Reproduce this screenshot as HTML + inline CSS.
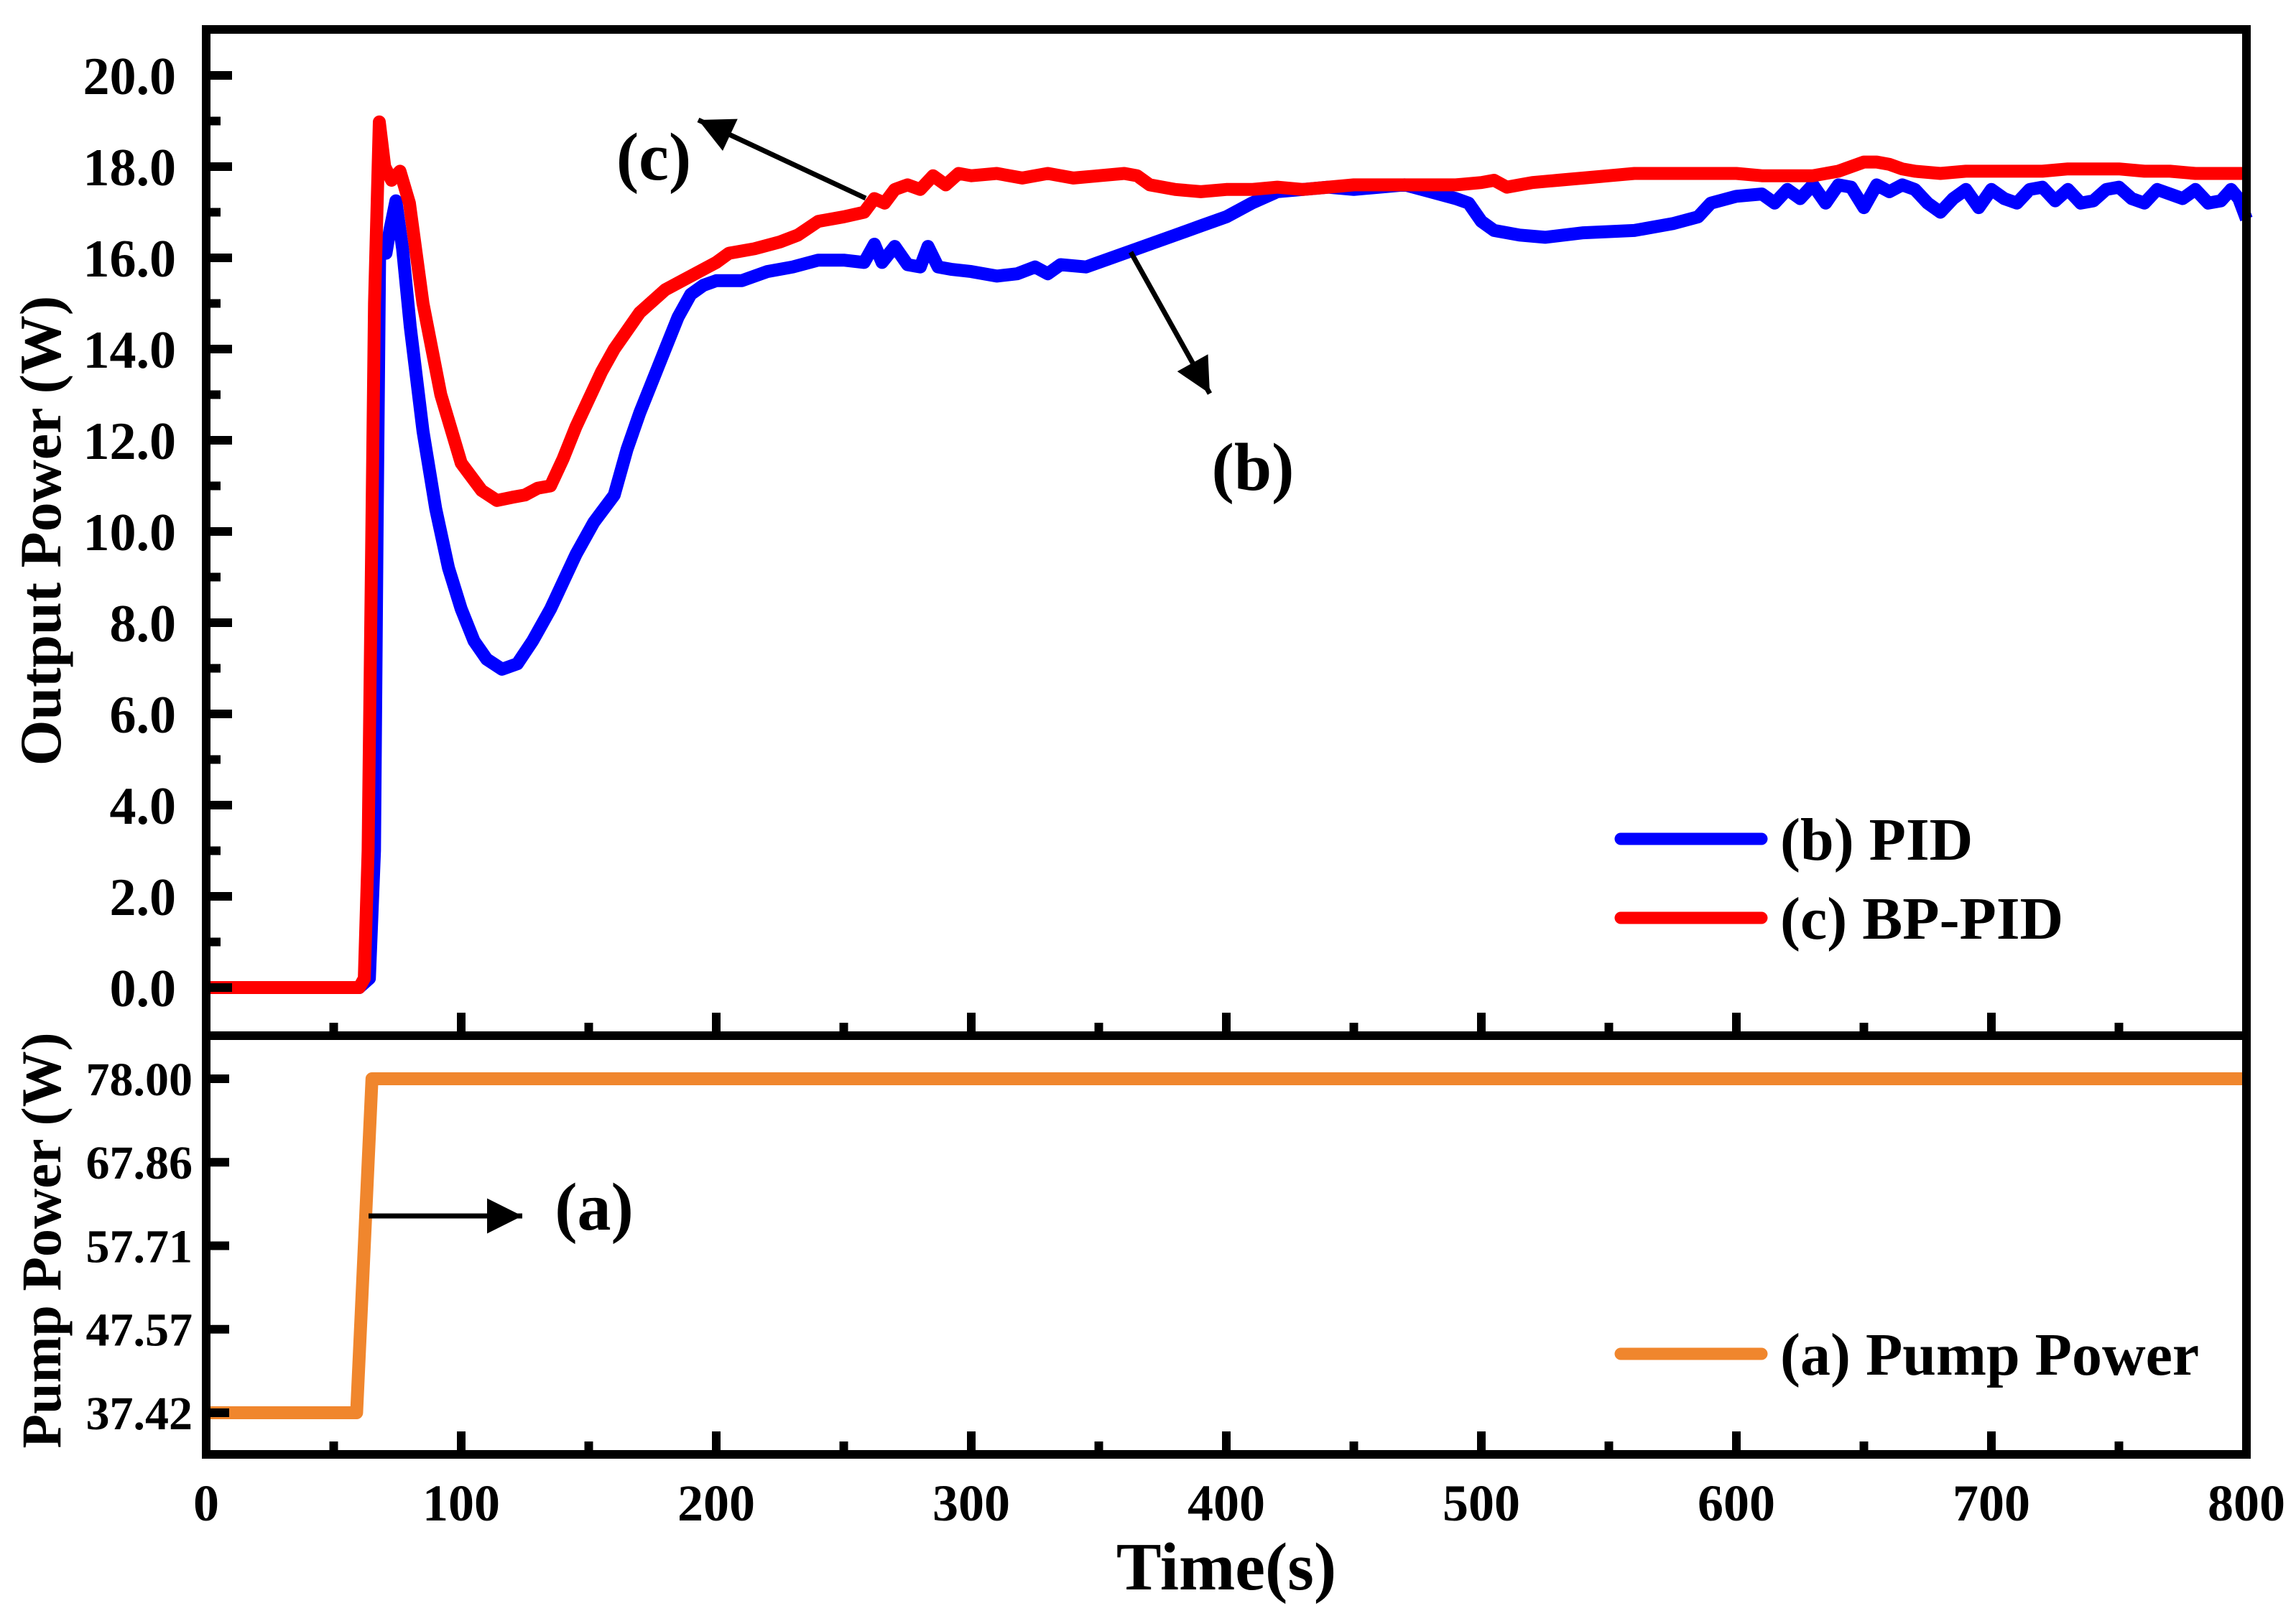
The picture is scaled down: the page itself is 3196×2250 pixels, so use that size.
<!DOCTYPE html>
<html><head><meta charset="utf-8"><style>
html,body{margin:0;padding:0;background:#fff;}
svg{display:block;}
text{font-family:"Liberation Serif",serif;font-weight:bold;fill:#000;}
</style></head><body>
<svg id="chart" width="3196" height="2250" viewBox="0 0 3196 2250" xmlns="http://www.w3.org/2000/svg">
<defs>
<marker id="ah" viewBox="0 0 10 10" refX="10" refY="5" markerWidth="11" markerHeight="7" markerUnits="strokeWidth" orient="auto"><path d="M0,0 L10,5 L0,10 z" fill="#000"/></marker>
</defs>
<g id="top-marks"></g>
<g id="bot-marks"></g>
<g id="axes"></g>
<text transform="translate(84,739) rotate(-90)" text-anchor="middle" font-size="82">Output Power (W)</text>
<text transform="translate(84,1727) rotate(-90)" text-anchor="middle" font-size="78">Pump Power (W)</text>
<text x="1707" y="2213" text-anchor="middle" font-size="94">Time(s)</text>
<g>
<text x="910" y="250" text-anchor="middle" font-size="94">(c)</text>
<line x1="1205" y1="276" x2="972" y2="167" stroke="#000" stroke-width="7" marker-end="url(#ah)"/>
<text x="1744" y="682" text-anchor="middle" font-size="94">(b)</text>
<line x1="1574" y1="351" x2="1684" y2="548" stroke="#000" stroke-width="7" marker-end="url(#ah)"/>
<text x="827" y="1712" text-anchor="middle" font-size="94">(a)</text>
<line x1="513" y1="1693" x2="727" y2="1693" stroke="#000" stroke-width="7" marker-end="url(#ah)"/>
</g>
<g>
<line x1="2256" y1="1168" x2="2452" y2="1168" stroke="#0000ff" stroke-width="17" stroke-linecap="round"/>
<text x="2478" y="1197" font-size="84">(b) PID</text>
<line x1="2256" y1="1278" x2="2452" y2="1278" stroke="#ff0000" stroke-width="17" stroke-linecap="round"/>
<text x="2478" y="1307" font-size="84">(c) BP-PID</text>
<line x1="2256" y1="1885" x2="2452" y2="1885" stroke="#f0862d" stroke-width="17" stroke-linecap="round"/>
<text x="2478" y="1914" font-size="84">(a) Pump Power</text>
</g>
</svg>
<script>
const pidT = [0,60,64,66,67,68,70,70.5,72,74.4,77,80,85,90,95,100,105,110,116,122,128,135,140,145,152,160,165,170,175,180,185,190,195,200,210,220,230,240,250,258,262,265,270,275,280,283,287,292,300,310,318,325,330,335,345,355,365,380,390,400,410,420,430,440,450,460,470,480,490,495,500,505,515,525,540,560,575,585,590,600,610,615,620,625,630,635,640,645,650,655,660,665,670,675,680,685,690,695,700,705,710,715,720,725,730,735,740,745,750,755,760,765,770,775,780,785,790,794,797,800];
const pidV = [0,0,0.2,3,10,16,16.2,16.1,16.6,17.25,16.2,14.5,12.2,10.5,9.2,8.3,7.6,7.2,6.98,7.1,7.6,8.3,8.9,9.5,10.2,10.8,11.8,12.6,13.3,14.0,14.7,15.2,15.4,15.5,15.5,15.7,15.8,15.95,15.95,15.9,16.3,15.9,16.25,15.85,15.8,16.25,15.8,15.75,15.7,15.6,15.65,15.8,15.65,15.85,15.8,16.0,16.2,16.5,16.7,16.9,17.2,17.45,17.5,17.55,17.5,17.55,17.6,17.45,17.3,17.2,16.8,16.6,16.5,16.45,16.55,16.6,16.75,16.9,17.2,17.35,17.4,17.2,17.5,17.3,17.6,17.2,17.6,17.55,17.1,17.6,17.45,17.6,17.5,17.2,17.0,17.3,17.5,17.1,17.5,17.3,17.2,17.5,17.55,17.25,17.5,17.2,17.25,17.5,17.55,17.3,17.2,17.5,17.4,17.3,17.5,17.2,17.25,17.5,17.3,16.85,16.8];
const bpT = [0,60,62,63.5,66,67.9,70,72.7,76,79.7,85,92,100,108,114,120,125,130,135,140,145,150,155,160,170,180,190,200,205,215,225,232,240,250,258,262,266,270,275,280,285,290,295,300,310,320,330,340,350,360,365,370,380,390,400,410,420,430,440,450,460,470,480,490,500,505,510,515,520,530,540,550,560,570,580,590,600,610,620,630,640,650,655,660,665,670,680,690,700,710,720,730,740,750,760,770,780,790,800];
const bpV = [0,0,0.2,3,15,18.98,18.0,17.7,17.9,17.2,15.0,13.0,11.5,10.9,10.68,10.75,10.8,10.95,11.0,11.6,12.3,12.9,13.5,14.0,14.8,15.3,15.6,15.9,16.1,16.2,16.35,16.5,16.8,16.9,17.0,17.3,17.2,17.5,17.6,17.5,17.8,17.6,17.85,17.8,17.85,17.75,17.85,17.75,17.8,17.85,17.8,17.6,17.5,17.45,17.5,17.5,17.55,17.5,17.55,17.6,17.6,17.6,17.6,17.6,17.65,17.7,17.55,17.6,17.65,17.7,17.75,17.8,17.85,17.85,17.85,17.85,17.85,17.8,17.8,17.8,17.9,18.1,18.1,18.05,17.95,17.9,17.85,17.9,17.9,17.9,17.9,17.95,17.95,17.95,17.9,17.9,17.85,17.85,17.85];
const pumpT = [0,59,65,800];
const pumpV = [37.42,37.42,78.00,78.00];
const topTicks = [0,2,4,6,8,10,12,14,16,18,20];
const topTickLabels = ["0.0","2.0","4.0","6.0","8.0","10.0","12.0","14.0","16.0","18.0","20.0"];
const pumpTicks = [37.42,47.57,57.71,67.86,78.00];
const pumpTickLabels = ["37.42","47.57","57.71","67.86","78.00"];
const xTicks = [0,100,200,300,400,500,600,700,800];
const xTickLabels = ["0","100","200","300","400","500","600","700","800"];

const NS="http://www.w3.org/2000/svg";
const X0=287, X1=3127, TOP=41, MID=1442, BOT=2025;
const xs = t => X0 + t/800*(X1-X0);
const yTop = v => 1375 - v*63.5;
const yPump = v => 1967 - (v-37.42)*(465/40.58);
function mk(tag, attrs, parent){const e=document.createElementNS(NS,tag);for(const k in attrs)e.setAttribute(k,attrs[k]);parent.appendChild(e);return e;}
const topG=document.getElementById('top-marks'), botG=document.getElementById('bot-marks'), ax=document.getElementById('axes');
function line(T,V,yf,color,name,g){
  const d=T.map((t,i)=>(i?'L':'M')+xs(t).toFixed(1)+','+yf(V[i]).toFixed(1)).join(' ');
  const p=mk('path',{d:d,fill:'none',stroke:color,'stroke-width':18,'stroke-linejoin':'round'},g);
  
  
}
line(pidT,pidV,yTop,'#0000ff','pid-line',topG);
line(bpT,bpV,yTop,'#ff0000','bp-pid-line',topG);
line(pumpT,pumpV,yPump,'#f0862d','pump-power-line',botG);

const f1=mk('rect',{x:X0,y:TOP,width:X1-X0,height:MID-TOP,fill:'none',stroke:'#000','stroke-width':12},ax);


const f2=mk('rect',{x:X0,y:MID,width:X1-X0,height:BOT-MID,fill:'none',stroke:'#000','stroke-width':12},ax);


topTicks.forEach((v,i)=>{
  const y=yTop(v);
  const tk=mk('line',{x1:X0,y1:y,x2:X0+36,y2:y,stroke:'#000','stroke-width':12},ax);
  
  
  const t=mk('text',{x:245,y:y+26,'text-anchor':'end','font-size':74},ax);
  t.textContent=topTickLabels[i];
  
  
  if(i<topTicks.length-1){
    const ym=yTop(v+1);
    const mt=mk('line',{x1:X0,y1:ym,x2:X0+20,y2:ym,stroke:'#000','stroke-width':12},ax);
    
    
  }
});
pumpTicks.forEach((v,i)=>{
  const y=yPump(v);
  const tk=mk('line',{x1:X0,y1:y,x2:X0+32,y2:y,stroke:'#000','stroke-width':12},ax);
  
  
  const t=mk('text',{x:268,y:y+23,'text-anchor':'end','font-size':66},ax);
  t.textContent=pumpTickLabels[i];
  
  
});
xTicks.forEach((v,i)=>{
  const x=xs(v);
  [MID,BOT].forEach(yb=>{
    const tk=mk('line',{x1:x,y1:yb,x2:x,y2:yb-32,stroke:'#000','stroke-width':12},ax);
    
    
    if(i<xTicks.length-1){
      const xm=xs(v+50);
      const mt=mk('line',{x1:xm,y1:yb,x2:xm,y2:yb-18,stroke:'#000','stroke-width':12},ax);
      
      
    }
  });
  const t=mk('text',{x:x,y:2117,'text-anchor':'middle','font-size':72},ax);
  t.textContent=xTickLabels[i];
  
  
});
</script>
</body></html>
